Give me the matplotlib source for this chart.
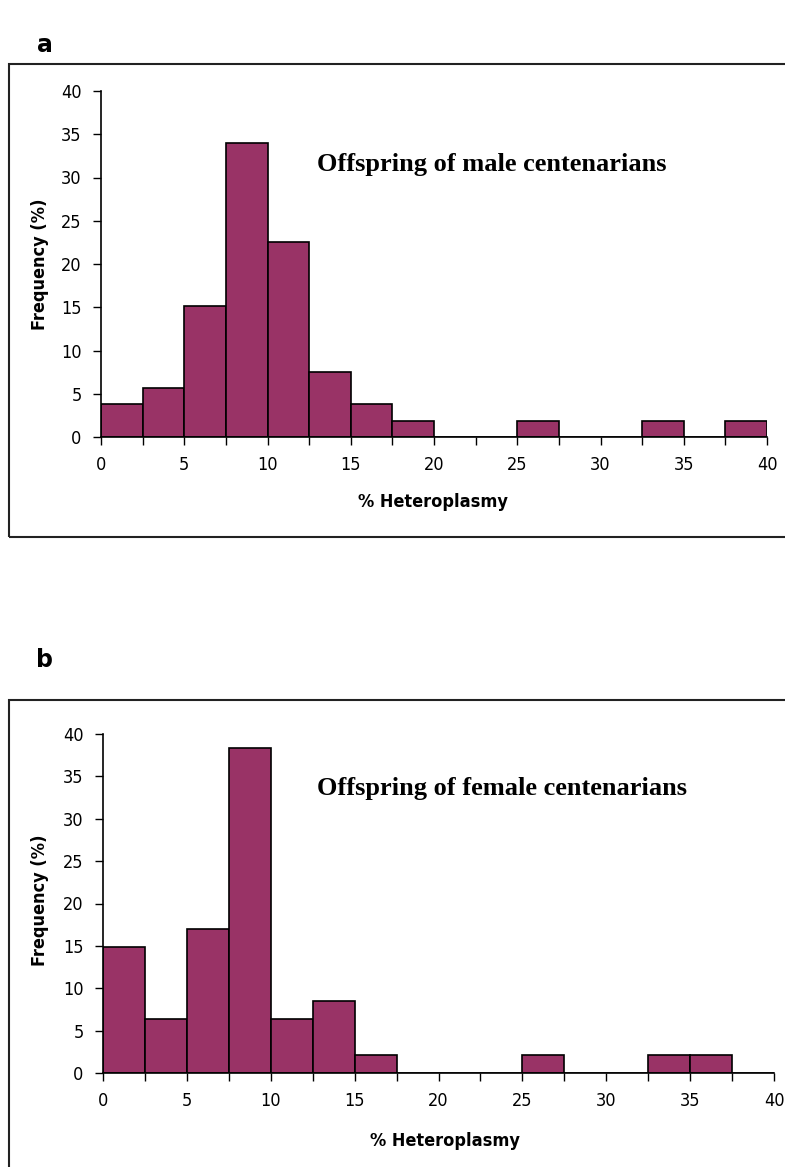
import numpy as np
import matplotlib.pyplot as plt
from matplotlib.patches import Rectangle

# bin edges of % heteroplasmy (2.5 wide)
bin_edges = [0, 2.5, 5, 7.5, 10, 12.5, 15, 17.5, 20, 22.5, 25, 27.5, 30, 32.5, 35, 37.5, 40]

# frequency (%) per bin
male_freq = [3.8, 5.7, 15.1, 34.0, 22.6, 7.5, 3.8, 1.9, 0, 0, 1.9, 0, 0, 1.9, 0, 1.9]
female_freq = [14.9, 6.4, 17.0, 38.3, 6.4, 8.5, 2.1, 0, 0, 0, 2.1, 0, 0, 2.1, 2.1, 0]

panel_letters = ["a", "b"]
titles = ["Offspring of male centenarians", "Offspring of female centenarians"]

BAR = "#993366"
W, H = 785, 1167

fig = plt.figure(figsize=(W / 100, H / 100), dpi=100)

tick_font = {"family": "DejaVu Sans", "stretch": "condensed", "size": 13}
label_font = {"family": "DejaVu Sans", "stretch": "condensed", "size": 13, "weight": "bold"}


def px(x, y):
    # pixel coords -> figure fraction
    return x / W, 1 - y / H


def draw_panel(data, letter, title, ax_box, frame_box, letter_xy, title_xy, ylab_xy, xlab_xy):
    # outer frame
    fx0, fy0, fx1, fy1 = frame_box
    x0, y1 = px(fx0, fy0)
    x1, y0 = px(fx1, fy1)
    fig.patches.append(Rectangle((x0, y0), x1 - x0, y1 - y0, transform=fig.transFigure,
                                 fill=False, edgecolor="#222222", linewidth=1.5))

    lx, ly = px(*letter_xy)
    fig.text(lx, ly, letter, fontsize=17, fontweight="bold", family="DejaVu Sans",
             ha="center", va="center")

    ax = fig.add_axes(ax_box)
    left = np.array(bin_edges[:-1])
    widths = np.diff(bin_edges)
    ax.bar(left, data, width=widths, align="edge", color=BAR, edgecolor="black", linewidth=1.2)

    ax.set_xlim(0, 40)
    ax.set_ylim(0, 40)
    ax.set_xticks(bin_edges)
    ax.set_xticklabels([str(e) if e % 5 == 0 else "" for e in bin_edges], fontdict=tick_font)
    ax.set_yticks(range(0, 41, 5))
    ax.set_yticklabels([str(v) for v in range(0, 41, 5)], fontdict=tick_font)
    ax.tick_params(direction="out", length=6, width=1, pad=8, colors="black")
    for s in ["top", "right"]:
        ax.spines[s].set_visible(False)
    for s in ["left", "bottom"]:
        ax.spines[s].set_linewidth(1.2)

    tx, ty = px(*title_xy)
    fig.text(tx, ty, title, fontsize=19, fontweight="bold", family="Liberation Serif",
             ha="left", va="center")

    yx, yy = px(*ylab_xy)
    fig.text(yx, yy, "Frequency (%)", rotation=90, ha="center", va="center", **label_font)
    xx, xy = px(*xlab_xy)
    fig.text(xx, xy, "% Heteroplasmy", ha="center", va="center", **label_font)


draw_panel(male_freq, panel_letters[0], titles[0],
           [101 / W, 1 - 437 / H, (767 - 101) / W, (437 - 91) / H],
           (9, 64, 800, 537), (45, 45), (317, 165), (40, 264), (433, 502))

draw_panel(female_freq, panel_letters[1], titles[1],
           [103 / W, 1 - 1073 / H, (774 - 103) / W, (1073 - 734) / H],
           (9, 700, 800, 1200), (45, 660), (317, 788), (40, 900), (445, 1141))

fig.savefig("out.png", dpi=100)
